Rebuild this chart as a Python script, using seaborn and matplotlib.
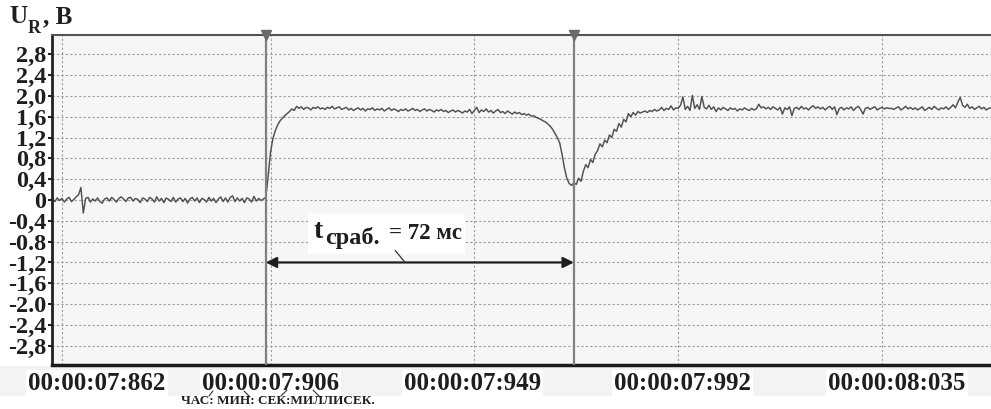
import numpy as np
import pandas as pd
import matplotlib
matplotlib.use("Agg")
import matplotlib.pyplot as plt
from matplotlib.lines import Line2D
from matplotlib.patches import Rectangle
from matplotlib.transforms import ScaledTranslation
import seaborn as sns

# ---------------- recorded voltage U_R (V), sampled every 0.5 ms ----------------
t_start_ms = 7860.0
dt_ms = 0.5

u_baseline = [
    0.02, -0.03, 0.04, -0.01, 0.03, -0.04, 0.02, 0.05, -0.03, 0.01,
    0.06, 0.10, 0.24, -0.25, 0.03, 0.05, -0.04, 0.02, -0.02, 0.04,
    -0.03, -0.06, 0.02, 0.04, -0.02, 0.05, 0.01, -0.04, 0.03, 0.06,
    0.02, -0.03, 0.04, 0.05, -0.02, 0.03, 0.01, -0.05, 0.04, 0.02,
    -0.03, 0.05, 0.02, -0.04, 0.06, -0.02, 0.03, -0.05, 0.04, 0.01,
    -0.03, 0.05, -0.04, 0.02, 0.04, -0.03, 0.03, -0.06, 0.02, 0.05,
    -0.02, 0.04, -0.05, 0.03, 0.01, -0.04, 0.05, -0.02, 0.03, -0.05,
    0.02, 0.06, -0.03, 0.04, -0.04, 0.05, 0.08, -0.03, 0.04, -0.02,
    0.03, -0.05, 0.04, 0.02, -0.04, 0.07, -0.02, 0.03, -0.01, 0.02,
]
u_rise = [
    0.05, 0.45, 0.92, 1.18, 1.33, 1.44, 1.52, 1.57, 1.62, 1.66,
    1.70, 1.75, 1.72, 1.80,
]
u_plateau = [
    1.76, 1.79, 1.74, 1.78, 1.77, 1.73, 1.78, 1.76, 1.79, 1.75,
    1.77, 1.74, 1.78, 1.76, 1.80, 1.75, 1.77, 1.79, 1.74, 1.76,
    1.78, 1.73, 1.76, 1.72, 1.75, 1.77, 1.73, 1.76, 1.71, 1.75,
    1.74, 1.77, 1.72, 1.75, 1.73, 1.76, 1.71, 1.74, 1.77, 1.72,
    1.75, 1.73, 1.70, 1.74, 1.72, 1.75, 1.71, 1.73, 1.76, 1.72,
    1.74, 1.70, 1.73, 1.75, 1.71, 1.74, 1.72, 1.69, 1.73, 1.71,
    1.74, 1.70, 1.72, 1.68, 1.71, 1.73, 1.69, 1.72, 1.70, 1.67,
    1.71, 1.69, 1.74, 1.66, 1.72, 1.78, 1.68, 1.73, 1.70, 1.75,
    1.69, 1.72, 1.67, 1.71, 1.74, 1.68, 1.70, 1.66, 1.71, 1.68,
    1.65, 1.69, 1.66, 1.68, 1.64, 1.66,
]
u_dip = [
    1.63, 1.65, 1.61, 1.62, 1.59, 1.57, 1.55, 1.52, 1.50, 1.46,
    1.42, 1.36, 1.28, 1.20, 1.10, 0.88, 0.62, 0.42, 0.32, 0.28,
    0.33, 0.30, 0.42, 0.36,
]
u_recovery = [
    0.55, 0.68, 0.62, 0.78, 0.72, 0.88, 0.95, 1.08, 1.02, 1.15,
    1.10, 1.25, 1.20, 1.36, 1.32, 1.47, 1.40, 1.55, 1.50, 1.66,
    1.60, 1.68, 1.63, 1.70, 1.67, 1.69, 1.71, 1.68, 1.72, 1.70,
    1.74, 1.71, 1.73, 1.78, 1.72, 1.76, 1.74, 1.81, 1.73, 1.77,
]
u_tail = [
    1.76, 1.82, 1.98, 1.74, 1.80, 1.72, 2.01, 1.76, 1.83, 1.74,
    1.99, 1.78, 1.75, 1.82, 1.74, 1.79, 1.70, 1.77, 1.73, 1.78,
    1.75, 1.72, 1.77, 1.74, 1.76, 1.71, 1.75, 1.73, 1.77, 1.74,
    1.72, 1.76, 1.73, 1.75, 1.84, 1.77, 1.79, 1.75, 1.78, 1.74,
    1.79, 1.76, 1.73, 1.78, 1.65, 1.77, 1.74, 1.79, 1.62, 1.76,
    1.78, 1.74, 1.80, 1.75, 1.77, 1.73, 1.78, 1.81, 1.76, 1.79,
    1.75, 1.78, 1.73, 1.77, 1.80, 1.74, 1.79, 1.64, 1.76, 1.78,
    1.73, 1.77, 1.75, 1.79, 1.72, 1.77, 1.80, 1.74, 1.65, 1.76,
    1.78, 1.74, 1.77, 1.79, 1.73, 1.76, 1.78, 1.75, 1.77, 1.76,
    1.76, 1.74, 1.77, 1.79, 1.73, 1.76, 1.80, 1.75, 1.78, 1.74,
    1.77, 1.73, 1.76, 1.79, 1.72, 1.75, 1.78, 1.74, 1.80, 1.76,
    1.73, 1.77, 1.75, 1.79, 1.74, 1.78, 1.83, 1.77, 1.88, 1.97,
    1.82, 1.78, 1.84, 1.76, 1.79, 1.74, 1.77, 1.80, 1.75, 1.78,
    1.73, 1.76, 1.77,
]

# cursor markers (ms) and the response-time annotation
cursor_on_ms = 7905.0
cursor_off_ms = 7970.0
arrow_level = -1.2
resp_symbol = "t"
resp_subscript = "сраб."
resp_value = "= 72 мс"

# axes ticks
x_tick_ms = [7862, 7906, 7949, 7992, 8035]
x_tick_labels = ["00:00:07:862", "00:00:07:906", "00:00:07:949",
                 "00:00:07:992", "00:00:08:035"]
y_ticks = [2.8, 2.4, 2.0, 1.6, 1.2, 0.8, 0.4, 0.0,
           -0.4, -0.8, -1.2, -1.6, -2.0, -2.4, -2.8]
y_tick_labels = ["2,8", "2,4", "2,0", "1,6", "1,2", "0,8", "0,4", "0",
                 "-0,4", "-0.8", "-1,2", "-1,6", "-2.0", "-2,4", "-2,8"]
time_format_label = "ЧАС: МИН: СЕК:МИЛЛИСЕК."

# ---------------- assemble ----------------
u = np.array(u_baseline + u_rise + u_plateau + u_dip + u_recovery + u_tail)
t = t_start_ms + dt_ms * np.arange(len(u))
df = pd.DataFrame({"t": t, "u": u})

sns.set_theme(style="white")
plt.rcParams["font.family"] = ["Liberation Serif", "DejaVu Serif"]
plt.rcParams["font.weight"] = "bold"

INK = "#1e1e1e"
W, H = 991, 409
fig = plt.figure(figsize=(W / 100, H / 100), dpi=100)
fig.patch.set_facecolor("white")
ax = fig.add_axes([52 / W, 1 - 365 / H, 1 - 52 / W, 330 / H])
ax.set_facecolor("#f6f6f6")

# light strip behind the time labels
fig.add_artist(Rectangle((0, 1 - 396 / H), 1, 30 / H, transform=fig.transFigure,
                         facecolor="#f3f3f3", edgecolor="none", zorder=-5))

sns.lineplot(data=df, x="t", y="u", ax=ax, color="#505050", linewidth=1.05,
             estimator=None, zorder=2)

ax.set_xlim(7859.9, 8058.0)
ax.set_ylim(-3.17, 3.17)
ax.set_xlabel("")
ax.set_ylabel("")

ax.set_yticks(y_ticks)
ax.set_yticklabels(y_tick_labels, fontsize=17.5, fontweight="bold", color=INK)
ax.set_xticks(x_tick_ms)
ax.set_xticklabels(x_tick_labels, fontsize=18, fontweight="bold", color=INK)
ax.tick_params(axis="y", length=3, width=1.5, pad=1, color="#222222", left=True)
ax.tick_params(axis="x", length=0, pad=5)

label_shift_px = [35, 0, -2, 4, 15]
for lbl, dx in zip(ax.get_xticklabels(), label_shift_px):
    lbl.set_transform(lbl.get_transform() + ScaledTranslation(dx / 100, 0, fig.dpi_scale_trans))
    lbl.set_bbox(dict(facecolor="white", edgecolor="none", pad=1.5))

ax.grid(True, color="#9c9c9c", linestyle=(0, (2, 2)), linewidth=0.8)
ax.set_axisbelow(True)

ax.spines["right"].set_visible(False)
ax.spines["left"].set_color("#222222")
ax.spines["left"].set_linewidth(2.0)
ax.spines["bottom"].set_color("#1a1a1a")
ax.spines["bottom"].set_linewidth(2.5)
ax.spines["top"].set_color("#555555")
ax.spines["top"].set_linewidth(1.5)

# cursors
for c in (cursor_on_ms, cursor_off_ms):
    ax.axvline(c, color="#808080", linewidth=1.6, zorder=3)
    ax.plot([c], [3.17], marker="v", markersize=7, color="#6a6a6a",
            clip_on=False, zorder=5)

# response-time arrow between the cursors
ax.annotate("", xy=(cursor_off_ms, arrow_level), xytext=(cursor_on_ms, arrow_level),
            arrowprops=dict(arrowstyle="<|-|>", color=INK, lw=1.6,
                            mutation_scale=16, shrinkA=0, shrinkB=0), zorder=4)

ax.add_patch(Rectangle((7914.0, -1.04), 33.0, 0.77, facecolor="white",
                       edgecolor="none", zorder=4))
ax.text(7915.0, -0.73, resp_symbol, fontsize=20, fontweight="bold",
        color=INK, va="baseline", ha="left", zorder=5)
ax.text(7917.6, -0.84, resp_subscript, fontsize=17.5, fontweight="bold",
        color=INK, va="baseline", ha="left", zorder=5)
ax.text(7931.0, -0.74, resp_value, fontsize=16.5, fontweight="bold",
        color=INK, va="baseline", ha="left", zorder=5)
ax.plot([7932.3, 7934.4], [-0.97, arrow_level], color="#333333", lw=0.9, zorder=5)

# axis title U_R, B
fig.text(9 / W, 1 - 23 / H, "U", fontsize=18, fontweight="bold", color=INK,
         va="baseline", ha="left")
fig.text(28 / W, 1 - 33 / H, "R", fontsize=13, fontweight="bold", color=INK,
         va="baseline", ha="left")
fig.text(43 / W, 1 - 23 / H, ", B", fontsize=18, fontweight="bold", color=INK,
         va="baseline", ha="left")

# time format legend under the second label
fig.text(278 / W, 1 - 404 / H, time_format_label, fontsize=9.5, fontweight="bold",
         color=INK, va="baseline", ha="center")
for (x0, y0), (x1, y1) in [((213, 391), (209, 396)), ((244, 391), (250, 397)),
                           ((287, 390), (281, 396)), ((313, 390), (320, 397))]:
    fig.add_artist(Line2D([x0 / W, x1 / W], [1 - y0 / H, 1 - y1 / H],
                          transform=fig.transFigure, color="#333333", lw=0.8))

fig.savefig("out.png", dpi=100)
